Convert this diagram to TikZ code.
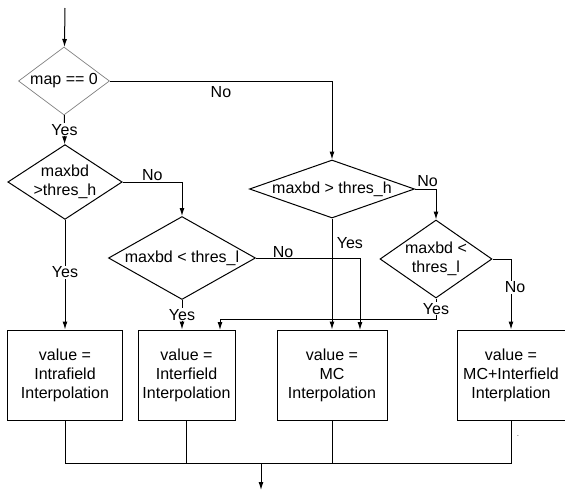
\documentclass[tikz,border=0pt]{standalone}
\usepackage{fontspec}
\setmainfont{Liberation Sans}
\usetikzlibrary{arrows.meta,shapes.geometric}

\begin{document}
\begin{tikzpicture}[
    x=1pt, y=-1pt,
    every node/.style={font=\fontsize{16}{19}\selectfont},
    block/.style={rectangle, draw, line width=1pt, minimum width=#1,
                  minimum height=90pt, align=center, inner sep=0pt},
    decision/.style={diamond, draw, line width=1pt, inner sep=0pt, align=center},
    lbl/.style={fill=white, inner sep=1pt},
    arrow/.style={-{Latex[length=8pt,width=5pt]}, line width=1pt}
]
\useasboundingbox (0,0) rectangle (565,493);

\coordinate (start) at (65,8);
\node[decision, draw=black!50, line width=0.7pt, shape aspect=1.34,
      minimum width=91pt, minimum height=68pt] (mapz) at (64,81) {map == 0};
\node[decision, shape aspect=1.53, minimum width=112pt, minimum height=73pt]
      (hcheck) at (65,182) {maxbd\\>thres\_h};
\node[decision, shape aspect=1.77, minimum width=147pt, minimum height=83pt]
      (lcheck) at (182,258) {maxbd < thres\_l};
\node[decision, shape aspect=2.84, minimum width=165pt, minimum height=58pt]
      (hcheckmc) at (332,189) {maxbd > thres\_h};
\node[decision, shape aspect=1.44, minimum width=112pt, minimum height=78pt]
      (lcheckmc) at (436,259) {maxbd <\\thres\_l};

\node[block=115pt] (intra) at (65,375) {value =\\Intrafield\\Interpolation};
\node[block=97pt] (inter) at (186.5,375) {value =\\Interfield\\Interpolation};
\node[block=110pt] (mc) at (332,375) {value =\\MC\\Interpolation};
\node[block=108pt] (mcinter) at (511,375) {value =\\MC+Interfield\\Interplation};
\node[font=\tiny] (mark) at (518,437) {-};

\coordinate (interin) at (220,330);
\coordinate (mcin) at (360,330);
\coordinate (turn) at (436,319);
\coordinate (bus) at (261,463);
\coordinate (done) at (261,490);

\draw[arrow] (start) -- (mapz);
\draw[arrow] (mapz) -- node[lbl]{Yes} (hcheck);
\draw[arrow] (mapz.east) -| node[pos=0.25, below=2pt]{No} (hcheckmc.north);
\draw[arrow] (hcheck.south) -- node[lbl, pos=0.48]{Yes} (intra.north);
\draw[arrow] (hcheck.east) -| node[pos=0.25, above=-2pt]{No} (lcheck.north);
\draw[arrow] (lcheck.south) -- node[lbl]{Yes} (lcheck.south |- inter.north);
\draw[arrow] (lcheck.east) -| node[pos=0.13, above=-3pt]{No} (mcin);
\draw[arrow] (hcheckmc.south) -- node[pos=0.22, right=1pt]{Yes} (mc.north);
\draw[arrow] (hcheckmc.east) -| node[pos=0.3, above=-1pt]{No} (lcheckmc.north);
\draw[arrow] (lcheckmc.south) -- node[lbl]{Yes} (turn) -| (interin);
\draw[arrow] (lcheckmc.east) -| node[lbl, pos=0.7, xshift=4pt]{No} (mcinter.north);

\draw[line width=1pt] (intra.south) |- (bus);
\draw[line width=1pt] (mcinter.south) |- (bus);
\draw[line width=1pt] (inter.south) -- (inter.south |- bus);
\draw[line width=1pt] (mc.south) -- (mc.south |- bus);
\draw[arrow] (bus) -- (done);
\end{tikzpicture}
\end{document}
